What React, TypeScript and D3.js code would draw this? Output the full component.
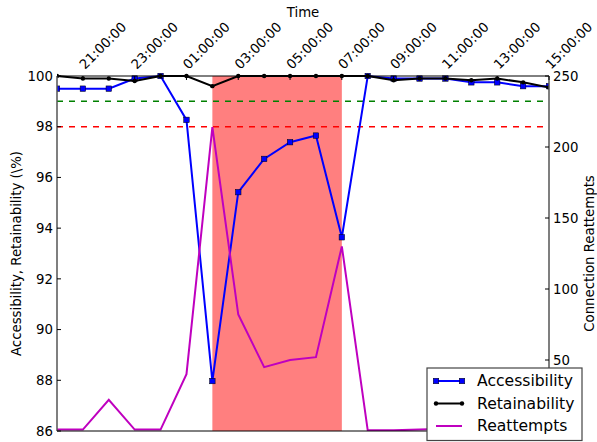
import React from "react";
import * as d3 from "d3";

const hours = [20, 21, 22, 23, 0, 1, 2, 3, 4, 5, 6, 7, 8, 9, 10, 11, 12, 13, 14, 15];
const accessibility = [99.5, 99.5, 99.5, 99.9, 100, 98.27, 87.97, 95.42, 96.73, 97.39, 97.65, 93.64, 100, 99.9, 99.9, 99.9, 99.75, 99.75, 99.6, 99.6];
const retainability = [100, 99.9, 99.9, 99.8, 100, 100, 99.6, 100, 100, 100, 100, 100, 100, 99.83, 99.9, 99.9, 99.83, 99.9, 99.75, 99.55];
const reattempts = [1, 1, 22, 1, 1, 40, 214, 82, 45, 50, 52, 130, 0.5, 0.5, 1, 1.5, 1, 1, 1, 1];
const leftTicks = [86, 88, 90, 92, 94, 96, 98, 100];
const rightTicks = [50, 100, 150, 200, 250];
const tickLabelIdx = [1, 3, 5, 7, 9, 11, 13, 15, 17, 19];
const shadeRange = [6, 11];
const thresholds = [
  { v: 99, color: "#008000" },
  { v: 98, color: "#ff0000" },
];

const W = 597, H = 442;
const L = 57, R = 549, T = 76, B = 431;
const FONT = "'DejaVu Sans', sans-serif";

export default function App() {
  const x = d3.scaleLinear().domain([0, hours.length - 1]).range([L, R]);
  const yL = d3.scaleLinear().domain([86, 100]).range([B, T]);
  const yR = d3.scaleLinear().domain([0, 250]).range([B, T]);
  const fmt = (h: number) => `${String(h).padStart(2, "0")}:00:00`;

  const lineA = d3.line<number>().x((_, i) => x(i)).y((d) => yL(d))(accessibility) as string;
  const lineRt = d3.line<number>().x((_, i) => x(i)).y((d) => yL(d))(retainability) as string;
  const lineRe = d3.line<number>().x((_, i) => x(i)).y((d) => yR(d))(reattempts) as string;

  const lx = 427, ly = 368;
  return (
    <svg width={W} height={H} style={{ position: "absolute", left: 0, top: 0, background: "#fff" }} fontFamily={FONT}>
      <defs>
        <clipPath id="plot">
          <rect x={L} y={T - 3} width={R - L} height={B - T + 3} />
        </clipPath>
      </defs>
      <rect x={x(shadeRange[0])} y={T} width={x(shadeRange[1]) - x(shadeRange[0])} height={B - T} fill="#ff7f7f" />
      {thresholds.map((t) => (
        <line key={t.v} x1={L} x2={R} y1={yL(t.v)} y2={yL(t.v)} stroke={t.color} strokeWidth={1.5} strokeDasharray="6,6" />
      ))}
      <g clipPath="url(#plot)">
        <path d={lineA} fill="none" stroke="#0000ff" strokeWidth={2} />
        {accessibility.map((d, i) => (
          <rect key={i} x={x(i) - 2.75} y={yL(d) - 2.75} width={5.5} height={5.5} fill="#0000ff" stroke="#000" strokeWidth={0.5} />
        ))}
        <path d={lineRt} fill="none" stroke="#000" strokeWidth={2} />
        {retainability.map((d, i) => (
          <circle key={i} cx={x(i)} cy={yL(d)} r={2.2} fill="#000" />
        ))}
        <path d={lineRe} fill="none" stroke="#bf00bf" strokeWidth={2} />
      </g>
      {/* frame */}
      <line x1={L} x2={R} y1={T} y2={T} stroke="#000" strokeWidth={1} />
      <line x1={L} x2={R} y1={B} y2={B} stroke="#000" strokeWidth={1} />
      <line x1={L} x2={L} y1={T} y2={B} stroke="#555" strokeWidth={1.5} />
      <line x1={R} x2={R} y1={T} y2={B} stroke="#555" strokeWidth={1.5} />
      {/* left ticks */}
      {leftTicks.map((t) => (
        <g key={t}>
          <line x1={L} x2={L + 4} y1={yL(t)} y2={yL(t)} stroke="#000" />
          <text x={L - 4} y={yL(t)} dy="0.35em" textAnchor="end" fontSize={13.3} fill="#000">{t}</text>
        </g>
      ))}
      {rightTicks.map((t) => (
        <g key={t}>
          <line x1={R - 4} x2={R} y1={yR(t)} y2={yR(t)} stroke="#000" />
          <text x={R + 4} y={yR(t)} dy="0.35em" textAnchor="start" fontSize={13.3} fill="#000">{t}</text>
        </g>
      ))}
      {tickLabelIdx.map((i) => (
        <g key={i}>
          <line x1={x(i)} x2={x(i)} y1={T} y2={T + 4} stroke="#000" />
          <text transform={`translate(${x(i) + 2},${T - 6}) rotate(-45)`} fontSize={13.3} fill="#000">{fmt(hours[i])}</text>
        </g>
      ))}
      <text x={(L + R) / 2} y={17} textAnchor="middle" fontSize={13.3} fill="#000">Time</text>
      <text transform={`translate(21,${(T + B) / 2}) rotate(-90)`} textAnchor="middle" fontSize={13.3} fill="#000">Accessibility, Retainability (\%)</text>
      <text transform={`translate(594,${(T + B) / 2}) rotate(-90)`} textAnchor="middle" fontSize={13.3} fill="#000">Connection Reattempts</text>
      {/* legend */}
      <g>
        <rect x={lx} y={ly} width={155} height={72.5} fill="#fff" stroke="#444" strokeWidth={1.2} />
        {[
          { name: "Accessibility", color: "#0000ff", marker: "sq" },
          { name: "Retainability", color: "#000", marker: "dot" },
          { name: "Reattempts", color: "#bf00bf", marker: "none" },
        ].map((s, k) => {
          const yy = ly + 13 + k * 22.5;
          return (
            <g key={s.name}>
              <line x1={lx + 9} x2={lx + 35} y1={yy} y2={yy} stroke={s.color} strokeWidth={2} />
              {s.marker === "sq" && [lx + 9, lx + 35].map((mx) => (
                <rect key={mx} x={mx - 2.75} y={yy - 2.75} width={5.5} height={5.5} fill={s.color} stroke="#000" strokeWidth={0.5} />
              ))}
              {s.marker === "dot" && [lx + 9, lx + 35].map((mx) => (
                <circle key={mx} cx={mx} cy={yy} r={2.2} fill={s.color} />
              ))}
              <text x={lx + 50} y={yy} dy="0.35em" fontSize={15.6} fill="#000">{s.name}</text>
            </g>
          );
        })}
      </g>
    </svg>
  );
}
